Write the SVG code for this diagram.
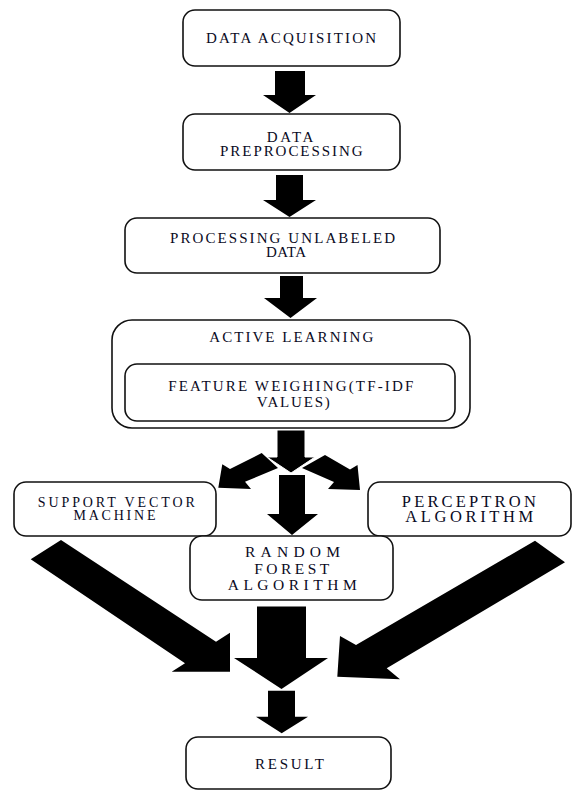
<svg xmlns="http://www.w3.org/2000/svg" width="572" height="791" viewBox="0 0 572 791">
<style>
.box{fill:#fff;stroke:#111;stroke-width:1.6}
.t{font-family:"Liberation Serif","Times New Roman",serif;fill:#0a0a1e;text-anchor:middle}
.arr{fill:#000}
.arrw{fill:#000;stroke:#fff;stroke-width:1}
</style>
<rect width="572" height="791" fill="#fff"/>
<g id="connectors">
<polygon class="arr" points="275,71 305,71 305,95 316,95 289.5,113 263,95 275,95"/>
<polygon class="arr" points="276,175 303,175 303,200 316,200 289.5,217 263,200 276,200"/>
<polygon class="arr" points="280,276 303,276 303,298 317,298 290.5,318 264,298 280,298"/>
<polygon class="arr" points="218.3,487.7 222.3,464.3 230,469 261.7,453 278,468 245,481.7 251,489"/>
<polygon class="arr" points="360,490 357.5,465 350,469.5 325,455 302,468 334,482 328,489"/>
<polygon class="arrw" points="277,430 305,430 305,457 315,457 291,473 267,457 277,457"/>
<polygon class="arr" points="279,475 305,475 305,514 318,514 292,535 267,514 279,514"/>
<polygon class="arr" points="61,540 216,641.7 230,632.7 230,671.7 171.7,671.7 185,663.3 30.7,559.3"/>
<polygon class="arr" points="257,606.5 306,606.5 306,658 328,658 281.5,689 234,658 257,658"/>
<polygon class="arr" points="535,540.7 565,562.3 386.7,668.3 400,679.3 337.3,676.7 340,636 356,645"/>
<polygon class="arr" points="268,690.7 295,690.7 295,716.7 308,716.7 281.7,733.3 256,716.7 268,716.7"/>
</g>
<g id="data-acquisition">
<rect class="box" x="183" y="10" width="217" height="56" rx="12"/>
<text class="t" x="291" y="43" font-size="15" textLength="170" lengthAdjust="spacing">DATA ACQUISITION</text>
</g>
<g id="data-preprocessing">
<rect class="box" x="183" y="114" width="217" height="56" rx="12"/>
<text class="t" x="290" y="142" font-size="15" textLength="46.5" lengthAdjust="spacing">DATA</text>
<text class="t" x="291.3" y="156" font-size="15" textLength="142.5" lengthAdjust="spacing">PREPROCESSING</text>
</g>
<g id="processing-unlabeled">
<rect class="box" x="125" y="218" width="315" height="55" rx="12"/>
<text class="t" x="282.5" y="243" font-size="15" textLength="225" lengthAdjust="spacing">PROCESSING UNLABELED</text>
<text class="t" x="286" y="257" font-size="15" textLength="40" lengthAdjust="spacing">DATA</text>
</g>
<g id="active-learning">
<rect class="box" x="112" y="320" width="358" height="108" rx="20"/>
<text class="t" x="291.3" y="342" font-size="15" textLength="164" lengthAdjust="spacing">ACTIVE LEARNING</text>
<g id="feature-weighing">
<rect class="box" x="125" y="364" width="330" height="57" rx="12"/>
<text class="t" x="290.8" y="390.5" font-size="15" textLength="245" lengthAdjust="spacing">FEATURE WEIGHING(TF-IDF</text>
<text class="t" x="293.3" y="407" font-size="15" textLength="73" lengthAdjust="spacing">VALUES)</text>
</g>
</g>
<g id="svm">
<rect class="box" x="14" y="482" width="202" height="54" rx="12"/>
<text class="t" x="116.3" y="507" font-size="14" textLength="157" lengthAdjust="spacing">SUPPORT VECTOR</text>
<text class="t" x="114.5" y="520" font-size="14" textLength="82" lengthAdjust="spacing">MACHINE</text>
</g>
<g id="perceptron">
<rect class="box" x="368" y="482" width="203" height="54" rx="12"/>
<text class="t" x="468.8" y="506.5" font-size="16.5" textLength="134" lengthAdjust="spacing">PERCEPTRON</text>
<text class="t" x="469.2" y="522.3" font-size="16.5" textLength="128" lengthAdjust="spacing">ALGORITHM</text>
</g>
<g id="random-forest">
<rect class="box" x="190" y="536" width="203" height="64" rx="12"/>
<text class="t" x="292.5" y="557.3" font-size="15.5" textLength="95" lengthAdjust="spacing">RANDOM</text>
<text class="t" x="291.7" y="574" font-size="15.5" textLength="75" lengthAdjust="spacing">FOREST</text>
<text class="t" x="292.2" y="590" font-size="15.5" textLength="129" lengthAdjust="spacing">ALGORITHM</text>
</g>
<g id="result">
<rect class="box" x="186" y="737" width="205" height="52" rx="12"/>
<text class="t" x="289.5" y="769" font-size="15" textLength="69" lengthAdjust="spacing">RESULT</text>
</g>
</svg>
